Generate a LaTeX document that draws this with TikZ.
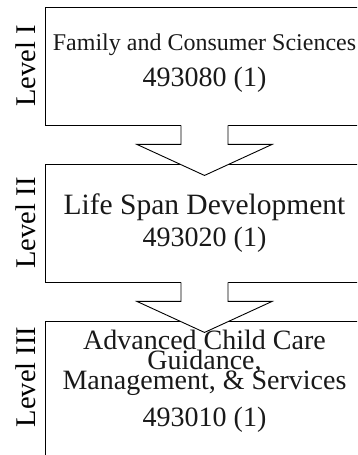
\documentclass[tikz,border=0pt]{standalone}
\usepackage{fontspec}
\setmainfont{Liberation Serif}
\usetikzlibrary{calc}
\tikzset{
  boxnode/.style={draw, line width=0.9pt, fill=white, rectangle, inner sep=0pt, minimum width=319pt},
  arrowline/.style={line width=0.9pt, line join=miter},
  txt/.style={anchor=base, inner sep=0pt, text=black!90},
  lvl/.style={rotate=90, anchor=base, inner sep=0pt, font=\fontsize{28.5pt}{28.5pt}\selectfont}
}
\newcommand{\fsz}[1]{\fontsize{#1}{#1}\selectfont}
\begin{document}
\begin{tikzpicture}[x=1pt,y=1pt]
\useasboundingbox (0,0) rectangle (357,455);
\clip (0,0) rectangle (357,455);
\fill[white] (0,0) rectangle (357,455);
% boxes
\node[boxnode, minimum height=118pt] (b1) at (204.5,389) {};
\node[boxnode, minimum height=118pt] (b2) at (204.5,232) {};
\node[boxnode, minimum height=154pt] (b3) at (204.5,57) {};
% arrow 1
\fill[white] ($(b1.south)+(-23.5,0.8)$) -- ++(0,-19.8) -- ++(-44,0) -- ($(b1.south)+(0,-50)$) -- ($(b1.south)+(67.5,-19)$) -- ++(-44,0) -- ++(0,19.8) -- cycle;
\draw[arrowline] ($(b1.south)+(-23.5,0)$) -- ++(0,-19) -- ++(-44,0) -- ($(b1.south)+(0,-50)$) -- ($(b1.south)+(67.5,-19)$) -- ++(-44,0) -- ++(0,19);
% arrow 2
\fill[white] ($(b2.south)+(-23.5,0.8)$) -- ++(0,-19.8) -- ++(-44,0) -- ($(b2.south)+(0,-50)$) -- ($(b2.south)+(67.5,-19)$) -- ++(-44,0) -- ++(0,19.8) -- cycle;
\draw[arrowline] ($(b2.south)+(-23.5,0)$) -- ++(0,-19) -- ++(-44,0) -- ($(b2.south)+(0,-50)$) -- ($(b2.south)+(67.5,-19)$) -- ++(-44,0) -- ++(0,19);
% texts
\node[txt, font=\fsz{24pt}] (t1a) at (204.5,404) {Family and Consumer Sciences};
\node[txt, font=\fsz{28pt}] (t1b) at (204.5,368) {493080 (1)};
\node[txt, font=\fsz{29.5pt}] (t2a) at (204.5,240) {Life Span Development};
\node[txt, font=\fsz{28pt}] (t2b) at (204.5,208) {493020 (1)};
\node[txt, font=\fsz{28pt}] (t3a) at (204.5,105) {Advanced Child Care};
\node[txt, font=\fsz{28pt}] (t3b) at (204.5,85) {Guidance,};
\node[txt, font=\fsz{28pt}] (t3c) at (204.5,65) {Management, \& Services};
\node[txt, font=\fsz{28pt}] (t3d) at (204.5,28) {493010 (1)};
% level labels
\node[lvl] (l1) at (35,389) {Level I};
\node[lvl] (l2) at (35,232) {Level II};
\node[lvl] (l3) at (35,78) {Level III};
\end{tikzpicture}
\end{document}
